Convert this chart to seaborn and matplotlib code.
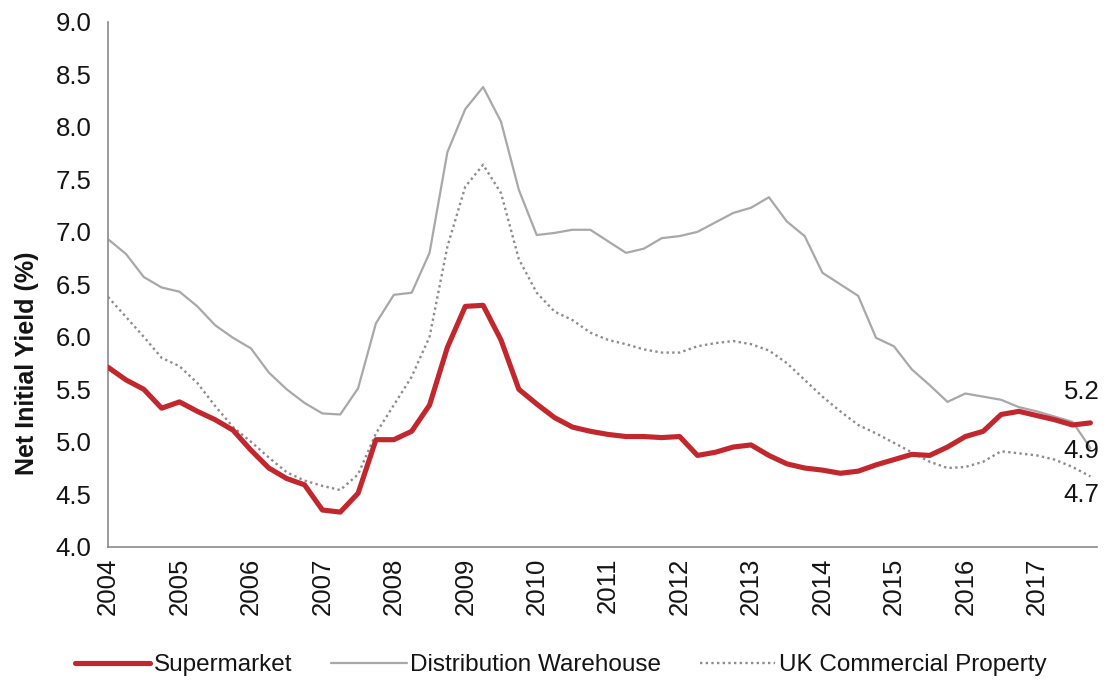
import numpy as np
import pandas as pd
import seaborn as sns
import matplotlib.pyplot as plt

# Quarterly net initial yields (%), Q1 2004 - Q4 2017
supermarket = [5.71, 5.59, 5.50, 5.32, 5.38, 5.29, 5.21, 5.11,
               4.92, 4.75, 4.65, 4.59, 4.35, 4.33, 4.51, 5.02,
               5.02, 5.10, 5.35, 5.90, 6.29, 6.30, 5.97, 5.50,
               5.36, 5.23, 5.14, 5.10, 5.07, 5.05, 5.05, 5.04,
               5.05, 4.87, 4.90, 4.95, 4.97, 4.87, 4.79, 4.75,
               4.73, 4.70, 4.72, 4.78, 4.83, 4.88, 4.87, 4.95,
               5.05, 5.10, 5.26, 5.29, 5.25, 5.21, 5.16, 5.18]

distribution = [6.93, 6.79, 6.57, 6.47, 6.43, 6.29, 6.11, 5.99,
                5.89, 5.66, 5.50, 5.37, 5.27, 5.26, 5.51, 6.13,
                6.40, 6.42, 6.80, 7.76, 8.17, 8.38, 8.05, 7.40,
                6.97, 6.99, 7.02, 7.02, 6.91, 6.80, 6.84, 6.94,
                6.96, 7.00, 7.09, 7.18, 7.23, 7.33, 7.10, 6.96,
                6.61, 6.50, 6.39, 5.99, 5.91, 5.69, 5.54, 5.38,
                5.46, 5.43, 5.40, 5.33, 5.29, 5.24, 5.19, 4.94]

uk_commercial = [6.38, 6.19, 6.00, 5.80, 5.72, 5.56, 5.34, 5.14,
                 5.00, 4.85, 4.71, 4.63, 4.58, 4.54, 4.69, 5.08,
                 5.35, 5.62, 6.00, 6.86, 7.43, 7.64, 7.37, 6.74,
                 6.42, 6.24, 6.16, 6.04, 5.97, 5.93, 5.88, 5.85,
                 5.85, 5.91, 5.94, 5.96, 5.93, 5.87, 5.75, 5.59,
                 5.43, 5.29, 5.16, 5.08, 4.99, 4.90, 4.81, 4.75,
                 4.76, 4.81, 4.91, 4.89, 4.87, 4.83, 4.76, 4.67]

years = list(range(2004, 2018))
series_names = ["Supermarket", "Distribution Warehouse", "UK Commercial Property"]

quarters = 2004 + np.arange(len(supermarket)) / 4.0
df = pd.DataFrame({"t": quarters,
                   series_names[0]: supermarket,
                   series_names[1]: distribution,
                   series_names[2]: uk_commercial})

sns.set_style("white")
plt.rcParams["font.family"] = ["Liberation Sans", "DejaVu Sans"]

fig = plt.figure(figsize=(11.06, 6.86), dpi=100)
ax = fig.add_axes([0.0977, 0.203, 0.894, 0.765])

styles = {
    "Supermarket": dict(color="#C1272D", lw=3.7, ls="-"),
    "Distribution Warehouse": dict(color="#A8A8A8", lw=1.6, ls="-"),
    "UK Commercial Property": dict(color="#8C8C8C", lw=1.7, ls=(0, (1, 1.4))),
}
draw_order = ["Distribution Warehouse", "UK Commercial Property", "Supermarket"]
lines = {}
for name in draw_order:
    st = styles[name]
    sns.lineplot(data=df, x="t", y=name, ax=ax, color=st["color"],
                 linewidth=st["lw"], linestyle=st["ls"], label=name,
                 zorder=3 if name == "Supermarket" else 2)
    lines[name] = ax.get_lines()[-1]

text_color = "#141414"
fs = 18.5

ax.set_xlim(2004, 2017.84)
ax.set_ylim(4.0, 9.0)
ax.set_yticks(np.arange(4.0, 9.01, 0.5))
ax.set_yticklabels([f"{v:.1f}" for v in np.arange(4.0, 9.01, 0.5)])
ax.set_xticks(years)
ax.set_xticklabels([str(y) for y in years], rotation=90)
ax.tick_params(axis="both", labelsize=fs, labelcolor=text_color, length=6,
               width=1, direction="out", color="#8a8a8a")
ax.tick_params(axis="y", pad=6)
ax.tick_params(axis="x", pad=2)
for side in ["top", "right"]:
    ax.spines[side].set_visible(False)
for side in ["left", "bottom"]:
    ax.spines[side].set_color("#8a8a8a")
    ax.spines[side].set_linewidth(1.2)

ax.set_xlabel("")
ax.set_ylabel("Net Initial Yield (%)", fontsize=18, fontweight="bold",
              color=text_color)
ax.yaxis.set_label_coords(-0.07, 0.35)

# End-of-series value labels
last_t = quarters[-1]
label_offsets = {
    "Supermarket": (supermarket[-1], (-9, 31)),
    "Distribution Warehouse": (distribution[-1], (-9, -3)),
    "UK Commercial Property": (uk_commercial[-1], (-9, -19)),
}
for name, (val, off) in label_offsets.items():
    ax.annotate(f"{val:.1f}", xy=(last_t, val), xytext=off,
                textcoords="offset pixels", ha="center", va="center",
                fontsize=fs, color=text_color, annotation_clip=False)

ax.get_legend().remove()
handles = [lines[n] for n in series_names]
fig.legend(handles, series_names, loc="center", bbox_to_anchor=(0.507, 0.03),
           ncol=3, frameon=False, fontsize=17.5, handlelength=3.1,
           handletextpad=0.15, columnspacing=1.6, labelcolor=text_color)

fig.savefig("out.png", dpi=100, facecolor="white")
